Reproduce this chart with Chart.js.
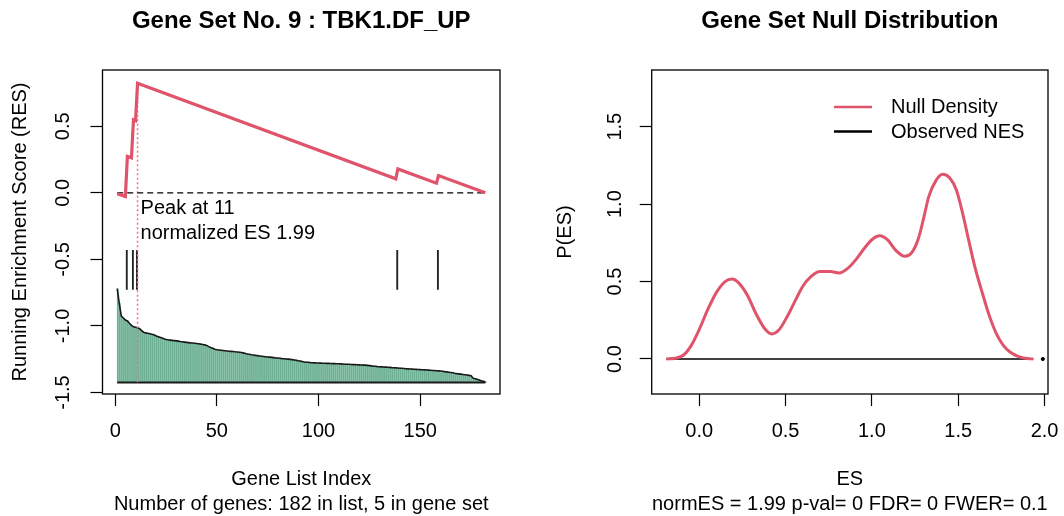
<!DOCTYPE html>
<html><head><meta charset="utf-8">
<script src="https://cdn.jsdelivr.net/npm/chart.js@4.4.1/dist/chart.umd.min.js"></script>
<style>
html,body{margin:0;padding:0;background:#fff;}
#wrap{position:relative;width:1064px;height:516px;overflow:hidden;}
.pane{position:absolute;top:0;width:532px;height:516px;}
</style></head><body>
<div id="wrap">
<div class="pane" style="left:0"><canvas id="c1" width="532" height="516"></canvas></div>
<div class="pane" style="left:532px"><canvas id="c2" width="532" height="516"></canvas></div>
</div>
<script>
// ---------------- data: left panel ----------------
const leftTitle = 'Gene Set No. 9 : TBK1.DF_UP';
const esIndex = [1, 5, 6, 8, 9, 10, 11, 138, 139, 158, 159, 182];
const esValue = [-0.006, -0.028, 0.274, 0.263, 0.549, 0.543, 0.824, 0.106, 0.180, 0.073, 0.130, 0.0];
const hitIndex = [6, 9, 11, 139, 159];
const hitTop = -0.432;
const hitBottom = -0.726;
const peakIndex = 11;
const peakValue = 0.824;
const normES = '1.99';
const metricBase = -1.425;
const rankedMetric = [
 -0.720,-0.830,-0.925,-0.940,-0.955,-0.962,-0.980,-0.995,-1.006,-1.010,
 -1.014,-1.020,-1.035,-1.047,-1.052,-1.055,-1.058,-1.062,-1.066,-1.074,
 -1.080,-1.085,-1.090,-1.096,-1.101,-1.104,-1.106,-1.108,-1.110,-1.112,
 -1.114,-1.117,-1.119,-1.121,-1.123,-1.125,-1.127,-1.128,-1.130,-1.132,
 -1.134,-1.136,-1.139,-1.142,-1.146,-1.155,-1.162,-1.168,-1.175,-1.178,
 -1.180,-1.182,-1.184,-1.186,-1.188,-1.190,-1.191,-1.192,-1.194,-1.195,
 -1.197,-1.199,-1.202,-1.206,-1.210,-1.213,-1.216,-1.218,-1.221,-1.223,
 -1.225,-1.227,-1.229,-1.231,-1.233,-1.234,-1.236,-1.238,-1.240,-1.241,
 -1.243,-1.245,-1.246,-1.248,-1.249,-1.251,-1.253,-1.255,-1.257,-1.261,
 -1.264,-1.267,-1.270,-1.272,-1.273,-1.275,-1.276,-1.277,-1.278,-1.278,
 -1.279,-1.280,-1.280,-1.281,-1.281,-1.282,-1.283,-1.283,-1.284,-1.284,
 -1.285,-1.286,-1.287,-1.287,-1.288,-1.289,-1.290,-1.290,-1.291,-1.292,
 -1.293,-1.294,-1.294,-1.296,-1.298,-1.300,-1.302,-1.303,-1.305,-1.306,
 -1.307,-1.308,-1.309,-1.310,-1.311,-1.313,-1.314,-1.315,-1.316,-1.317,
 -1.318,-1.319,-1.321,-1.322,-1.323,-1.324,-1.325,-1.326,-1.327,-1.328,
 -1.329,-1.330,-1.331,-1.332,-1.333,-1.334,-1.335,-1.336,-1.337,-1.338,
 -1.340,-1.343,-1.345,-1.347,-1.349,-1.351,-1.355,-1.358,-1.360,-1.362,
 -1.364,-1.366,-1.368,-1.371,-1.374,-1.392,-1.396,-1.400,-1.406,-1.412,
 -1.416,-1.420
];
const leftXTicks = [0, 50, 100, 150];
const leftYTicks = [-1.5, -1.0, -0.5, 0.0, 0.5];
const leftXTitle = ['Gene List Index', 'Number of genes: 182 in list, 5 in gene set'];
const leftYTitle = 'Running Enrichment Score (RES)';

// ---------------- data: right panel ----------------
const rightTitle = 'Gene Set Null Distribution';
const densX = [-0.19,-0.14,-0.09,-0.05,0.00,0.05,0.10,0.15,0.19,0.23,0.28,0.33,0.38,0.42,0.46,0.51,0.56,0.60,0.65,0.70,
               0.76,0.81,0.86,0.91,0.96,1.00,1.045,1.09,1.14,1.19,1.23,1.27,1.30,1.33,1.37,1.41,1.45,1.49,1.53,1.56,
               1.60,1.64,1.68,1.72,1.76,1.80,1.85,1.90,1.935];
const densY = [0.000,0.005,0.026,0.080,0.190,0.320,0.430,0.500,0.516,0.490,0.410,0.290,0.195,0.162,0.185,0.275,0.385,0.470,0.535,0.565,
               0.565,0.555,0.585,0.645,0.720,0.770,0.795,0.770,0.700,0.663,0.685,0.780,0.910,1.050,1.150,1.193,1.170,1.090,0.920,0.770,
               0.580,0.425,0.280,0.166,0.090,0.045,0.015,0.003,0.000];
const observedNES = 1.99;
const rightXTicks = [0.0, 0.5, 1.0, 1.5, 2.0];
const rightYTicks = [0.0, 0.5, 1.0, 1.5];
const rightXTitle = ['ES', 'normES = 1.99 p-val= 0 FDR= 0 FWER= 0.1'];
const rightYTitle = 'P(ES)';
const legendLabels = ['Null Density', 'Observed NES'];

// ---------------- styling ----------------
const FONT = '"Liberation Sans", Arial, Helvetica, sans-serif';
Chart.defaults.font.family = FONT;
Chart.defaults.font.size = 20;
Chart.defaults.color = '#000';
const RED = '#DF536B';

const geneIndex = rankedMetric.map((_, i) => i + 1);

const boxAndTitle = {
  id: 'boxAndTitle',
  afterDraw(chart, args, opts) {
    const {ctx, chartArea: a} = chart;
    ctx.save();
    ctx.strokeStyle = '#000';
    ctx.lineWidth = 1.3;
    ctx.strokeRect(a.left, a.top, a.right - a.left, a.bottom - a.top);
    ctx.font = 'bold 24px ' + FONT;
    ctx.fillStyle = '#000';
    ctx.textAlign = 'center';
    ctx.textBaseline = 'middle';
    ctx.fillText(opts.text, (a.left + a.right) / 2, 21);
    ctx.restore();
  }
};

const peakLabel = {
  id: 'peakLabel',
  afterDatasetsDraw(chart) {
    const {ctx, scales: {x, y}} = chart;
    const px = x.getPixelForValue(peakIndex) + 3;
    const py = y.getPixelForValue(0);
    ctx.save();
    ctx.font = '20px ' + FONT;
    ctx.fillStyle = '#000';
    ctx.textAlign = 'left';
    ctx.textBaseline = 'middle';
    ctx.fillText('Peak at ' + peakIndex, px, py + 16);
    ctx.fillText('normalized ES ' + normES, px, py + 41);
    ctx.restore();
  }
};

const innerLegend = {
  id: 'innerLegend',
  afterDraw(chart, args, opts) {
    const {ctx} = chart;
    const ds = chart.data.datasets.filter(d => d.legendItem);
    ctx.save();
    ctx.font = '20px ' + FONT;
    ctx.textAlign = 'left';
    ctx.textBaseline = 'middle';
    ds.forEach((d, i) => {
      const yy = opts.y + i * opts.gap;
      ctx.strokeStyle = d.borderColor;
      ctx.lineWidth = 2.6;
      ctx.beginPath();
      ctx.moveTo(opts.x, yy);
      ctx.lineTo(opts.x + opts.len, yy);
      ctx.stroke();
      ctx.fillStyle = '#000';
      ctx.fillText(d.label, opts.x + opts.len + 19, yy + 0.5);
    });
    ctx.restore();
  }
};

function zeroPad(s) { s.paddingLeft = 0; s.paddingRight = 0; s.paddingTop = 0; s.paddingBottom = 0; }

function xAxis(min, max, ticks, title, fmt) {
  return {
    type: 'linear', min, max, offset: false,
    afterBuildTicks: s => { s.ticks = ticks.map(v => ({value: v})); },
    afterFit: s => { s.height = 122; zeroPad(s); },
    grid: {offset: false, drawOnChartArea: false, drawTicks: true, tickLength: 12, tickColor: '#000', tickWidth: 1.2},
    border: {display: false},
    ticks: {padding: 13.5, autoSkip: false, maxRotation: 0, minRotation: 0, font: {size: 20}, color: '#000', callback: fmt},
    title: {display: true, text: title, color: '#000', font: {size: 20, lineHeight: 1.25}, padding: {top: 0, bottom: -1}}
  };
}
function yAxis(min, max, ticks, title, width, titlePad) {
  return {
    type: 'linear', min, max, offset: false,
    afterBuildTicks: s => { s.ticks = ticks.map(v => ({value: v})); },
    afterFit: s => { s.width = width; zeroPad(s); },
    grid: {offset: false, drawOnChartArea: false, drawTicks: true, tickLength: 12, tickColor: '#000', tickWidth: 1.2},
    border: {display: false},
    ticks: {padding: 10, autoSkip: false, minRotation: 90, maxRotation: 90, crossAlign: 'center', font: {size: 20}, color: '#000',
            callback: v => Number(v).toFixed(1)},
    title: {display: true, text: title, color: '#000', font: {size: 20, lineHeight: 1.2}, padding: {top: titlePad, bottom: 0}}
  };
}

// ---------------- left chart ----------------
new Chart(document.getElementById('c1'), {
  type: 'line',
  data: {
    datasets: [
      { // running enrichment score
        label: 'RES', order: 1,
        data: esIndex.map((v, i) => ({x: v, y: esValue[i]})),
        borderColor: RED, borderWidth: 3.2, pointRadius: 0, tension: 0, fill: false
      },
      { // dashed zero line
        label: 'zero', order: 2,
        data: [{x: geneIndex[0], y: 0}, {x: geneIndex[geneIndex.length - 1], y: 0}],
        borderColor: '#000', borderWidth: 1.3, borderDash: [6, 4], pointRadius: 0, fill: false
      },
      { // peak marker
        label: 'peak', order: 3,
        data: [{x: peakIndex, y: peakValue}, {x: peakIndex, y: metricBase}],
        borderColor: '#EE6F88', borderWidth: 1.5, borderDash: [2, 2.5], pointRadius: 0, fill: false
      },
      { // hit ticks
        type: 'bar', label: 'hits', order: 4,
        data: hitIndex.map(h => ({x: h, y: [hitBottom, hitTop]})),
        backgroundColor: '#222', barThickness: 1.2, borderWidth: 0
      },
      { // metric outline (with light fill)
        label: 'metric', order: 5,
        data: geneIndex.map((g, i) => ({x: g, y: rankedMetric[i]})),
        borderColor: '#1a1a1a', borderWidth: 1.6, pointRadius: 0, tension: 0,
        fill: {value: metricBase}, backgroundColor: 'rgb(172,215,196)'
      },
      { // baseline
        label: 'base', order: 6,
        data: [{x: geneIndex[0], y: metricBase}, {x: geneIndex[geneIndex.length - 1], y: metricBase}],
        borderColor: '#1a1a1a', borderWidth: 2, pointRadius: 0, fill: false
      },
      { // metric bars
        type: 'bar', label: 'metricBars', order: 7,
        data: geneIndex.map((g, i) => ({x: g, y: [metricBase, rankedMetric[i]]})),
        backgroundColor: 'rgb(110,176,148)', barThickness: 1, borderWidth: 0
      }
    ]
  },
  options: {
    responsive: false, animation: false, events: [],
    layout: {padding: {top: 70, right: 32, bottom: 0, left: 0}},
    plugins: {legend: {display: false}, tooltip: {enabled: false}, filler: {drawTime: 'beforeDatasetsDraw'},
              boxAndTitle: {text: leftTitle}},
    scales: {
      x: xAxis(-6.24, 189.24, leftXTicks, leftXTitle, v => String(v)),
      y: yAxis(-1.511, 0.923, leftYTicks, leftYTitle, 102.5, 8.7)
    }
  },
  plugins: [boxAndTitle, peakLabel]
});

// ---------------- right chart ----------------
new Chart(document.getElementById('c2'), {
  type: 'line',
  data: {
    datasets: [
      {
        label: legendLabels[0], legendItem: true, order: 1,
        data: densX.map((v, i) => ({x: v, y: densY[i]})),
        borderColor: RED, borderWidth: 3, pointRadius: 0, cubicInterpolationMode: 'monotone', fill: false
      },
      {
        label: legendLabels[1], legendItem: true, order: 2,
        data: [{x: densX[0], y: 0}, {x: densX[densX.length - 1], y: 0}],
        borderColor: '#000', borderWidth: 1.4, pointRadius: 0, fill: false
      },
      {
        label: 'obs', order: 3,
        data: [{x: observedNES, y: 0}],
        borderColor: '#000', backgroundColor: '#000', pointRadius: 1.6, showLine: false
      }
    ]
  },
  options: {
    responsive: false, animation: false, events: [],
    layout: {padding: {top: 70, right: 16, bottom: 0, left: 0}},
    plugins: {legend: {display: false}, tooltip: {enabled: false},
              boxAndTitle: {text: rightTitle},
              innerLegend: {x: 302, y: 107, gap: 24.5, len: 38}},
    scales: {
      x: xAxis(-0.275, 2.02, rightXTicks, rightXTitle, v => Number(v).toFixed(1)),
      y: yAxis(-0.226, 1.866, rightYTicks, rightYTitle, 119.7, 21.7)
    }
  },
  plugins: [boxAndTitle, innerLegend]
});
</script>
</body></html>
